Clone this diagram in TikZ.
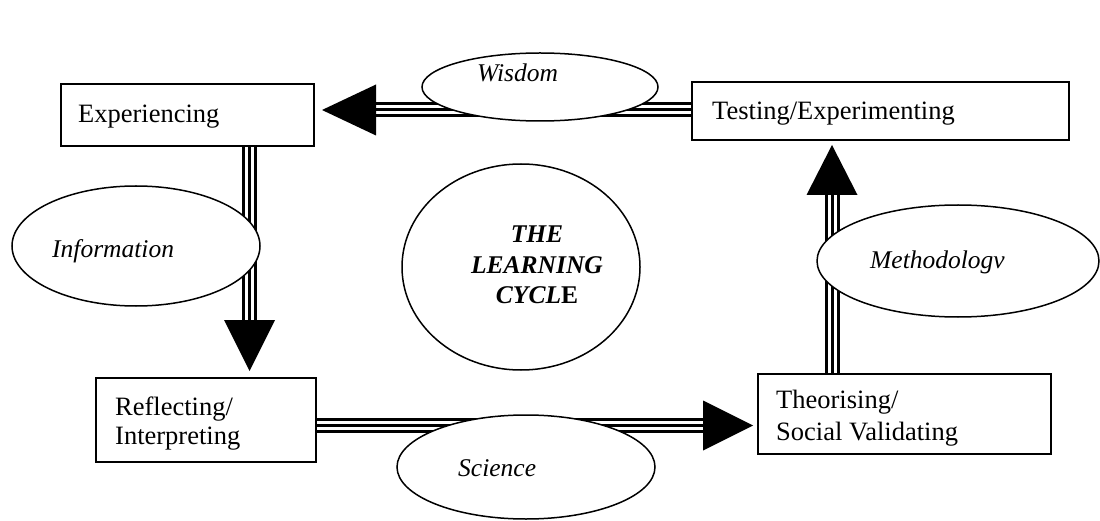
\documentclass[tikz,border=0pt]{standalone}
\usepackage{fontspec}
\setmainfont{Liberation Serif}
\usetikzlibrary{shapes.geometric}
\begin{document}
\begin{tikzpicture}[x=1pt,y=-1pt,
  font=\fontsize{26.5}{30}\selectfont,
  box/.style={draw, line width=2pt, rectangle, anchor=north west, inner sep=0pt},
  oval/.style={draw, fill=white, line width=1.5pt, ellipse, inner sep=0pt},
  lbl/.style={anchor=base west, inner sep=0pt, align=left},
  itlbl/.style={anchor=base west, inner sep=0pt, font=\fontsize{25.5}{30}\selectfont\itshape},
  triline/.style={line width=3pt, double=white, double distance=9pt},
  midline/.style={line width=3pt},
  head/.style={fill=black}]
\useasboundingbox (0,0) rectangle (1100,521);
\fill[white] (0,0) rectangle (1100,521);

% boxes
\node[box, minimum width=253pt, minimum height=62pt] (exp) at (60,83) {};
\node[box, minimum width=377pt, minimum height=58pt] (test) at (691,81) {};
\node[box, minimum width=220pt, minimum height=84pt] (refl) at (95,377) {};
\node[box, minimum width=293pt, minimum height=80pt] (theo) at (757,373) {};

% arrow tips
\coordinate (tipA) at (322,110);
\coordinate (tipB) at (249.5,371);
\coordinate (tipC) at (753,425.5);
\coordinate (tipD) at (832,145);
\coordinate (baseA) at (376,110);
\coordinate (baseB) at (249.5,320);
\coordinate (baseC) at (703,425.5);
\coordinate (baseD) at (832,195);

% top arrow: Testing -> Experiencing
\draw[triline] (test.west |- baseA) -- (baseA);
\draw[midline] (test.west |- baseA) -- (baseA);
\fill[head] (tipA) -- ++(54,-25.5) -- ++(0,51) -- cycle;

% left arrow: Experiencing -> Reflecting
\draw[triline] (exp.south -| baseB) -- (baseB);
\draw[midline] (exp.south -| baseB) -- (baseB);
\fill[head] (tipB) -- ++(-25.5,-51) -- ++(51,0) -- cycle;

% bottom arrow: Reflecting -> Theorising
\draw[triline] (refl.east |- baseC) -- (baseC);
\draw[midline] (refl.east |- baseC) -- (baseC);
\fill[head] (tipC) -- ++(-50,-25) -- ++(0,50) -- cycle;

% right arrow: Theorising -> Testing
\draw[triline] (theo.north -| baseD) -- (baseD);
\draw[midline] (theo.north -| baseD) -- (baseD);
\fill[head] (tipD) -- ++(-25.5,50) -- ++(51,0) -- cycle;

% ellipses
\node[oval, minimum width=236pt, minimum height=68pt] (wis) at (540,87) {};
\node[oval, minimum width=248pt, minimum height=120pt] (inf) at (136,246) {};
\node[oval, minimum width=238pt, minimum height=206pt] (cyc) at (521,267) {};
\node[oval, minimum width=258pt, minimum height=104pt] (sci) at (526,467) {};
\node[oval, minimum width=282pt, minimum height=112pt] (met) at (958,261) {};

% texts
\node[lbl] (texp) at (78,123) {Experiencing};
\node[lbl] (ttest) at (712,120) {Testing/Experimenting};
\node[lbl, font=\fontsize{26.5}{29}\selectfont] (trefl) at (115,444) {Reflecting/\\Interpreting};
\node[lbl, font=\fontsize{26.5}{32}\selectfont] (ttheo) at (776,440) {Theorising/\\Social Validating};
\node[itlbl] (twis) at (477,82) {Wisdom};
\node[itlbl] (tinf) at (52,258) {Information};
\node[itlbl] (tsci) at (458,476) {Science};
\node[itlbl] (tmet) at (870,269) {Methodologv};
\node[anchor=base, inner sep=0pt, align=center, font=\fontsize{25.5}{30}\selectfont\bfseries] (tcyc) at (537,303) {\textit{THE}\\\textit{LEARNING}\\\textit{CYCL}E};
\end{tikzpicture}
\end{document}
